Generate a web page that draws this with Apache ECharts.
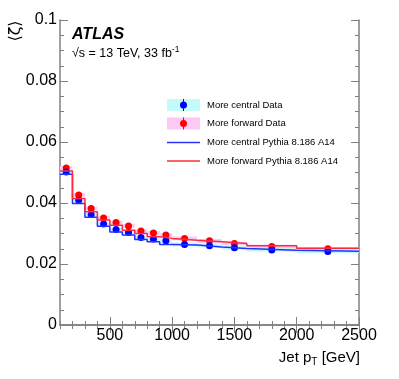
<!DOCTYPE html>
<html>
<head>
<meta charset="utf-8">
<script src="https://cdn.jsdelivr.net/npm/echarts@6/dist/echarts.min.js"></script>
<style>
  html, body { margin: 0; padding: 0; background: #fff; }
  #chart { width: 399px; height: 379px; }
</style>
</head>
<body>
<div id="chart"></div>
<script>
// bins in jet pT [GeV]
const binEdges = [100, 200, 300, 400, 500, 600, 700, 800, 900, 1000, 1200, 1400, 1600, 2000, 2500];
const binCenters = [150, 250, 350, 450, 550, 650, 750, 850, 950, 1100, 1300, 1500, 1800, 2250];

// <zeta> per bin
const centralData = [0.0502, 0.0409, 0.0362, 0.0331, 0.0313, 0.0303, 0.0287, 0.0282, 0.0276, 0.0264, 0.0260, 0.0253, 0.0246, 0.0241];
const forwardData = [0.0515, 0.0426, 0.0382, 0.0351, 0.0336, 0.0325, 0.0308, 0.0302, 0.0295, 0.0284, 0.0276, 0.0267, 0.0257, 0.0250];
const centralPythia = [0.0494, 0.0398, 0.0353, 0.0324, 0.0305, 0.0295, 0.0280, 0.0273, 0.0264, 0.0262, 0.0256, 0.0251, 0.0245, 0.0242];
const forwardPythia = [0.0505, 0.0415, 0.0371, 0.0344, 0.0327, 0.0311, 0.0300, 0.0289, 0.0284, 0.0278, 0.0273, 0.0267, 0.0260, 0.0252];
const sysErr = 0.0006;

const xMajor = [500, 1000, 1500, 2000, 2500];

const FONT = "Liberation Sans, Arial, sans-serif";
const AXIS_GRAY = "#808080";

function stepData(vals) {
  const out = vals.map((v, i) => [binEdges[i], v]);
  out.push([binEdges[binEdges.length - 1], vals[vals.length - 1]]);
  return out;
}

function boxData(vals) {
  return vals.map((v, i) => [binEdges[i], binEdges[i + 1], v]);
}

function boxSeries(vals, color) {
  return {
    type: "custom",
    xAxisIndex: 0,
    yAxisIndex: 0,
    silent: true,
    data: boxData(vals),
    renderItem: function (params, api) {
      const p1 = api.coord([api.value(0), api.value(2) + sysErr]);
      const p2 = api.coord([api.value(1), api.value(2) - sysErr]);
      return {
        type: "rect",
        shape: { x: p1[0], y: p1[1], width: p2[0] - p1[0], height: p2[1] - p1[1] },
        style: { fill: color },
      };
    },
  };
}

function xAxisDef(pos, major, labels) {
  const a = {
    type: "value",
    position: pos,
    min: 100,
    max: 2500,
    axisLine: { show: !major, lineStyle: { color: AXIS_GRAY, width: 1.5 } },
    splitLine: { show: false },
    axisTick: { inside: true, length: major ? 8 : 4, lineStyle: { color: AXIS_GRAY } },
    axisLabel: { show: false },
  };
  if (major) {
    a.axisTick.customValues = xMajor;
    if (labels) {
      a.axisLabel = {
        show: true,
        customValues: xMajor,
        fontSize: 16,
        color: "#000",
        fontFamily: FONT,
        margin: 3,
        formatter: (v) => String(v),
      };
    }
  } else {
    a.interval = 100;
  }
  return a;
}

function yAxisDef(pos, major, labels) {
  return {
    type: "value",
    position: pos,
    min: 0,
    max: 0.1,
    interval: major ? 0.02 : 0.005,
    axisLine: { show: !major, lineStyle: { color: AXIS_GRAY, width: 1.5 } },
    splitLine: { show: false },
    axisTick: { inside: true, length: major ? 8 : 4, lineStyle: { color: AXIS_GRAY } },
    axisLabel: {
      show: !!labels,
      fontSize: 16,
      color: "#000",
      fontFamily: FONT,
      margin: 3,
      formatter: (v) => String(parseFloat(v.toFixed(3))),
    },
  };
}

// legend rows drawn as graphics
const legendRows = [
  { label: "More central Data", box: "#c4fafa", color: "#0000ff", y: 105 },
  { label: "More forward Data", box: "#fcc8f4", color: "#ff0000", y: 123.5 },
  { label: "More central Pythia 8.186 A14", line: "#3030ff", y: 142.5 },
  { label: "More forward Pythia 8.186 A14", line: "#ff3030", y: 161 },
];
const legendGraphics = [];
legendRows.forEach((r) => {
  if (r.box) {
    legendGraphics.push({ type: "rect", shape: { x: 167, y: r.y - 6, width: 33, height: 12 }, style: { fill: r.box } });
    legendGraphics.push({ type: "line", shape: { x1: 183.5, y1: r.y - 6, x2: 183.5, y2: r.y + 6 }, style: { stroke: r.color, lineWidth: 1 } });
    legendGraphics.push({ type: "circle", shape: { cx: 183.5, cy: r.y, r: 3.5 }, style: { fill: r.color } });
  } else {
    legendGraphics.push({ type: "line", shape: { x1: 167, y1: r.y, x2: 200, y2: r.y }, style: { stroke: r.line, lineWidth: 1.5 } });
  }
  legendGraphics.push({
    type: "text",
    x: 207,
    y: r.y,
    style: { text: r.label, fontSize: 9.5, fontFamily: FONT, fill: "#000", verticalAlign: "middle" },
  });
});

const chart = echarts.init(document.getElementById("chart"));
chart.setOption({
  animation: false,
  grid: { left: 60, right: 40, top: 20, bottom: 54 },
  xAxis: [
    xAxisDef("bottom", false, false),
    xAxisDef("bottom", true, true),
    xAxisDef("top", false, false),
    xAxisDef("top", true, false),
  ],
  yAxis: [
    yAxisDef("left", false, false),
    yAxisDef("left", true, true),
    yAxisDef("right", false, false),
    yAxisDef("right", true, false),
  ],
  graphic: [
    {
      type: "text",
      x: 72,
      y: 35,
      style: { text: "ATLAS", fontSize: 16, fontWeight: "bold", fontStyle: "italic", fontFamily: FONT, fill: "#000", verticalAlign: "middle" },
    },
    {
      type: "text",
      x: 72,
      y: 54,
      style: {
        text: "√s = 13 TeV, 33 fb{sup|-1}",
        fontSize: 12.5,
        fontFamily: FONT,
        fill: "#000",
        verticalAlign: "middle",
        rich: { sup: { fontSize: 8.5, fontFamily: FONT, fill: "#000", padding: [0, 0, 8, 0] } },
      },
    },
    {
      type: "text",
      x: 16,
      y: 31,
      rotation: Math.PI / 2,
      style: { text: "⟨ζ⟩", fontSize: 16, fontFamily: "DejaVu Sans", fill: "#000", align: "center", verticalAlign: "middle" },
    },
    {
      type: "text",
      x: 360,
      y: 358,
      style: {
        text: "Jet p{sub|T} [GeV]",
        fontSize: 15,
        fontFamily: FONT,
        fill: "#000",
        align: "right",
        verticalAlign: "middle",
        rich: { sub: { fontSize: 10, fontFamily: FONT, fill: "#000", padding: [8, 0, 0, 0] } },
      },
    },
  ].concat(legendGraphics),
  series: [
    boxSeries(forwardData, "#fcc8f4"),
    boxSeries(centralData, "#c4fafa"),
    {
      name: "More central Pythia 8.186 A14",
      type: "line",
      step: "end",
      data: stepData(centralPythia),
      symbol: "none",
      lineStyle: { color: "#2233ff", width: 1.5 },
    },
    {
      name: "More forward Pythia 8.186 A14",
      type: "line",
      step: "end",
      data: stepData(forwardPythia),
      symbol: "none",
      lineStyle: { color: "#ff2a40", width: 1.5 },
    },
    {
      name: "More forward Data",
      type: "scatter",
      data: binCenters.map((x, i) => [x, forwardData[i]]),
      symbolSize: 7,
      itemStyle: { color: "#ff0000", opacity: 1 },
    },
    {
      name: "More central Data",
      type: "scatter",
      data: binCenters.map((x, i) => [x, centralData[i]]),
      symbolSize: 7,
      itemStyle: { color: "#0000ff", opacity: 1 },
    },
  ],
});
</script>
</body>
</html>
